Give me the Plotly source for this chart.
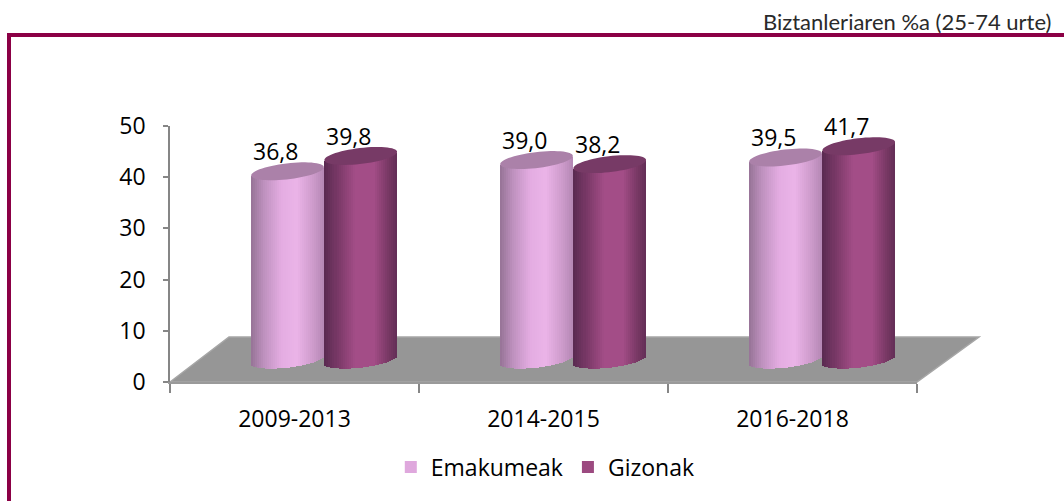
import numpy as np
import plotly.graph_objects as go

categories = ["2009-2013", "2014-2015", "2016-2018"]
emakumeak = [36.8, 39.0, 39.5]
gizonak = [39.8, 38.2, 41.7]
y_ticks = [0, 10, 20, 30, 40, 50]
W, H = 1064, 501
FONT = "Open Sans"
FS = 23
BASE = 4.35      # depth offset of the 3D floor, in axis units
AX_L, AX_R, AX_T, AX_B = 170, 917, 126, 382
HALF = 0.146
B, K = 1.56, 0.8  # ellipse semi-height and tilt, in axis units
N = 36
OFFS = {"Emakumeak": -0.028, "Gizonak": 0.266}
EMA_STOPS = [(0, (150, 115, 150)), (.18, (190, 145, 190)), (.42, (228, 172, 226)), (.62, (235, 180, 232)), (.85, (205, 155, 203)), (1, (180, 135, 180))]
GIZ_STOPS = [(0, (88, 42, 80)), (.2, (125, 58, 105)), (.42, (163, 77, 135)), (.68, (163, 77, 135)), (.88, (120, 56, 100)), (1, (98, 46, 86))]
CAP = {"Emakumeak": "#ab81a9", "Gizonak": "#773a66"}
LEG = {"Emakumeak": "#dfa8dd", "Gizonak": "#9c4a80"}


def shade(stops, s):
    p = [a for a, _ in stops]
    rgb = [np.interp(s, p, [c[i] for _, c in stops]) for i in range(3)]
    return "rgb(%d,%d,%d)" % tuple(int(round(v)) for v in rgb)


def cylinder(name, values, stops):
    xs, base, height, colors, cx_all, cy_all = [], [], [], [], [], []
    dw = 2 * HALF / N
    for i, v in enumerate(values):
        c = i + OFFS[name]
        for j in range(N):
            s = (j + .5) / N
            u = 2 * s - 1
            arc = np.sqrt(1 - u * u)
            xs.append(c + u * HALF)
            low = BASE - B * arc + K * u
            top = BASE + v - 0.5 * B * arc + K * u
            base.append(low)
            height.append(top - low)
            colors.append(shade(stops, s))
        t = np.linspace(0, 2 * np.pi, 60)
        cx_all += list(c + HALF * np.cos(t)) + [None]
        cy_all += list(BASE + v + B * np.sin(t) + K * np.cos(t)) + [None]
    body = go.Bar(x=xs, y=height, base=base, width=dw, marker=dict(color=colors, line=dict(width=0)),
                  showlegend=False, hoverinfo="skip", name=name)
    cap = go.Scatter(x=cx_all, y=cy_all, mode="none", fill="toself", fillcolor=CAP[name],
                     showlegend=False, hoverinfo="skip")
    return [body, cap]


fig = go.Figure()
for tr in cylinder("Emakumeak", emakumeak, EMA_STOPS) + cylinder("Gizonak", gizonak, GIZ_STOPS):
    fig.add_trace(tr)
for nm in ["Emakumeak", "Gizonak"]:
    fig.add_trace(go.Bar(x=[None], y=[None], name=nm, marker=dict(color=LEG[nm], line=dict(width=0))))

ann = []
for name, vals in [("Emakumeak", emakumeak), ("Gizonak", gizonak)]:
    for i, v in enumerate(vals):
        ann.append(dict(x=i + OFFS[name], y=BASE + v, xref="x", yref="y", text=f"{v:.1f}".replace(".", ","),
                        showarrow=False, xshift=-12, yshift=20, font=dict(family=FONT, size=FS, color="#000")))
ann.append(dict(x=1053 / W, y=1 - 21 / H, xref="paper", yref="paper", xanchor="right", yanchor="middle",
                text="Biztanleriaren %a (25-74 urte)", showarrow=False,
                font=dict(family="Lato", size=22, color="#2a2a2a")))


def px(x):
    return x / W


def py(y):
    return 1 - y / H


floor = "M %f,%f L %f,%f L %f,%f L %f,%f Z" % (px(AX_L), py(AX_B), px(229), py(337), px(979), py(337), px(AX_R), py(AX_B))
shapes = [
    dict(type="path", path=floor, xref="paper", yref="paper", fillcolor="#969696",
         line=dict(color="#a6a6a6", width=1.5), layer="below"),
    dict(type="rect", x0=px(7), x1=px(1064), y0=py(37), y1=py(33), xref="paper", yref="paper",
         fillcolor="#8b0045", line=dict(width=0)),
    dict(type="rect", x0=px(7), x1=px(11), y0=py(501), y1=py(33), xref="paper", yref="paper",
         fillcolor="#8b0045", line=dict(width=0)),
]

fig.update_layout(
    width=W, height=H, margin=dict(l=0, r=0, t=0, b=0, autoexpand=False), plot_bgcolor="rgba(0,0,0,0)", paper_bgcolor="white",
    barmode="overlay", bargap=0, shapes=shapes, annotations=ann,
    font=dict(family=FONT, size=FS, color="#000"),
    legend=dict(orientation="h", x=0.5125, xanchor="center", y=1 - 467 / H, yanchor="middle",
                font=dict(family=FONT, size=FS), bgcolor="rgba(0,0,0,0)"),
    xaxis=dict(domain=[px(AX_L), px(AX_R)], range=[-0.5, 2.5], tickmode="array", tickvals=[0, 1, 2], ticktext=categories,
               showgrid=False, zeroline=False, showline=True, linecolor="#9a9a9a", linewidth=1.5, ticks="", ticklabelstandoff=16,
               minor=dict(tickmode="array", tickvals=[-0.5, 0.5, 1.5, 2.5], ticks="outside", ticklen=9, tickcolor="#868686", tickwidth=1.5, showgrid=False)),
    yaxis=dict(domain=[py(AX_B), py(AX_T)], range=[0, 50], tickmode="array", tickvals=y_ticks,
               showgrid=False, zeroline=False, showline=True, linecolor="#868686", linewidth=1.5,
               ticks="outside", ticklen=5, tickcolor="#868686", tickwidth=1.5, ticklabelstandoff=13),
)
fig.write_html("out.html", config={"displayModeBar": False},
               post_script="document.body.style.margin='0';document.body.style.overflow='hidden';")
